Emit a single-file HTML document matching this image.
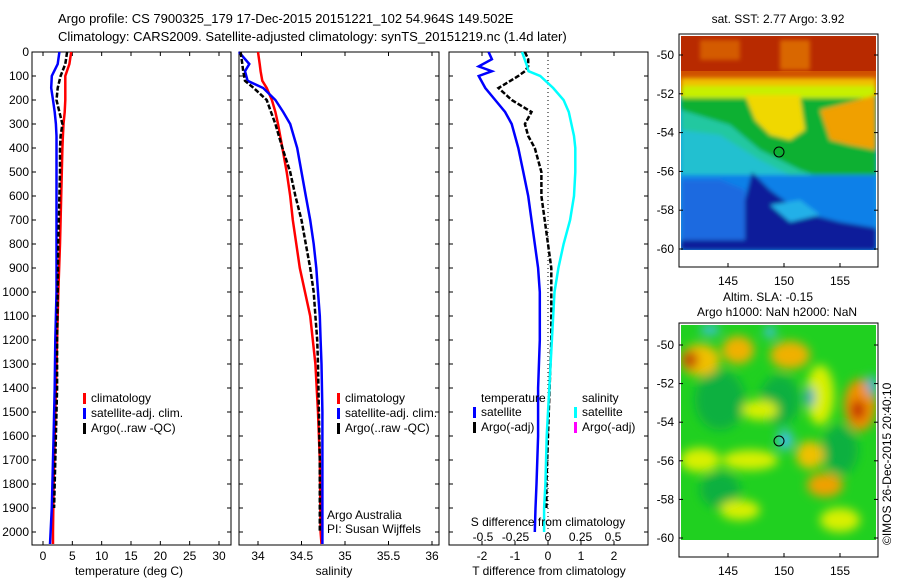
<!DOCTYPE html>
<html><head><meta charset="utf-8">
<style>
body{margin:0;background:#fff;}
svg text{font-family:"Liberation Sans",sans-serif;font-size:12px;fill:#000;}
</style></head>
<body>
<svg id="fig" width="900" height="580" viewBox="0 0 900 580" xmlns="http://www.w3.org/2000/svg">
<defs>
<filter id="blur2" x="-30%" y="-30%" width="160%" height="160%"><feGaussianBlur stdDeviation="5"/></filter>
<filter id="blur1" x="-30%" y="-30%" width="160%" height="160%"><feGaussianBlur stdDeviation="2"/></filter>
<clipPath id="m1c"><rect x="681" y="36" width="195" height="214"/></clipPath>
<clipPath id="m2c"><rect x="681" y="325" width="195" height="215"/></clipPath>
</defs>
<text x="58" y="23" style="font-size:13px">Argo profile: CS 7900325_179 17-Dec-2015 20151221_102 54.964S 149.502E</text>
<text x="58" y="41" style="font-size:13px">Climatology: CARS2009. Satellite-adjusted climatology: synTS_20151219.nc (1.4d later)</text>

<!-- Map 1 -->
<g>
<g clip-path="url(#m1c)">
<rect x="681" y="36" width="195" height="214" fill="#0a9fe0"/>
<rect x="681" y="36" width="195" height="60" fill="#d05000"/>
<rect x="681" y="36" width="195" height="35" fill="#b82a00"/>
<g filter="url(#blur1)">
<rect x="700" y="40" width="40" height="20" fill="#e07000" opacity="0.7"/>
<rect x="780" y="40" width="30" height="30" fill="#f09000" opacity="0.6"/>
<rect x="681" y="78" width="195" height="18" fill="#f0c000"/>
<rect x="681" y="86" width="195" height="12" fill="#c8f000"/>
<polygon points="681,98 876,98 876,195 840,185 800,170 760,150 730,125 681,110" fill="#10b030"/>
<polygon points="681,110 730,125 760,150 800,170 840,185 876,195 876,210 681,210" fill="#20c8a0"/>
<polygon points="681,130 720,135 760,160 790,175 681,175" fill="#20c0d0"/>
<polygon points="745,95 800,95 805,130 790,140 770,135 755,120" fill="#f0d800"/>
<polygon points="820,110 876,95 876,150 850,145 830,140" fill="#f0a000"/>
<rect x="681" y="175" width="195" height="75" fill="#1080e8"/>
<polygon points="752,172 770,190 800,212 840,222 876,228 876,250 681,250 681,240 740,235 745,200" fill="#0a1a9a"/>
<polygon points="770,205 800,200 820,215 790,222" fill="#20b0e8"/>
<polygon points="681,180 720,180 745,190 745,240 681,240" fill="#1a6ae0"/>
</g>
</g>
<rect x="679" y="34" width="199" height="233" fill="none" stroke="#000"/>
<circle cx="779" cy="152" r="5" fill="none" stroke="#000"/>
</g>
<text x="778" y="23" text-anchor="middle">sat. SST: 2.77 Argo: 3.92</text>

<!-- Map 2 -->
<g>
<g clip-path="url(#m2c)">
<rect x="681" y="325" width="195" height="215" fill="#20d020"/>
<g filter="url(#blur2)">
<ellipse cx="720" cy="400" rx="25" ry="30" fill="#10b040"/>
<ellipse cx="780" cy="400" rx="20" ry="25" fill="#10b040"/>
<ellipse cx="840" cy="450" rx="18" ry="25" fill="#10b040"/>
<ellipse cx="720" cy="490" rx="20" ry="18" fill="#10b040"/>
<ellipse cx="700" cy="360" rx="20" ry="16" fill="#f0c000"/>
<ellipse cx="690" cy="360" rx="8" ry="9" fill="#c04000"/>
<ellipse cx="738" cy="350" rx="16" ry="14" fill="#f0b000"/>
<ellipse cx="790" cy="355" rx="20" ry="14" fill="#f0b000"/>
<ellipse cx="860" cy="405" rx="16" ry="26" fill="#f09000"/>
<ellipse cx="858" cy="410" rx="7" ry="10" fill="#c02000"/>
<ellipse cx="810" cy="455" rx="14" ry="14" fill="#f0c000"/>
<ellipse cx="825" cy="485" rx="18" ry="12" fill="#f0a000"/>
<ellipse cx="750" cy="460" rx="28" ry="10" fill="#d8f000"/>
<ellipse cx="700" cy="460" rx="20" ry="12" fill="#d8f000"/>
<ellipse cx="820" cy="395" rx="14" ry="30" fill="#d8f000"/>
<ellipse cx="760" cy="410" rx="18" ry="10" fill="#d8f000"/>
<ellipse cx="785" cy="440" rx="8" ry="10" fill="#40c0e0"/>
<ellipse cx="810" cy="397" rx="4" ry="10" fill="#3090e0"/>
<ellipse cx="872" cy="385" rx="5" ry="10" fill="#40b0e0"/>
<ellipse cx="770" cy="332" rx="6" ry="6" fill="#40c0e0"/>
<ellipse cx="710" cy="330" rx="10" ry="5" fill="#40c0e0"/>
<ellipse cx="740" cy="510" rx="20" ry="10" fill="#d8f000"/>
<ellipse cx="840" cy="520" rx="20" ry="12" fill="#d8f000"/>
</g>
</g>
<rect x="679" y="323" width="199" height="234" fill="none" stroke="#000"/>
<circle cx="779" cy="441" r="5" fill="none" stroke="#000"/>
</g>
<text x="768" y="301" text-anchor="middle">Altim. SLA: -0.15</text>
<text x="777" y="316" text-anchor="middle">Argo h1000: NaN h2000: NaN</text>
<text transform="translate(891,545) rotate(-90)">©IMOS 26-Dec-2015 20:40:10</text>
<g id="plots"></g>
</svg>
<script>
// shared depth grid
const depthTicks=[0,100,200,300,400,500,600,700,800,900,1000,1100,1200,1300,1400,1500,1600,1700,1800,1900,2000];
// temperature profiles
const tDepth=[0,50,100,150,200,250,300,350,400,500,600,700,800,1000,1200,1400,1600,1800,1900,2000,2050];
const tClim=[4.8,4.5,3.8,3.8,3.8,3.7,3.5,3.4,3.3,3.2,3.1,3.0,2.9,2.6,2.4,2.2,2.0,1.8,1.75,1.7,1.7];
const tSat=[2.8,2.5,1.5,1.4,1.7,2.0,2.2,2.3,2.3,2.3,2.3,2.3,2.3,2.3,2.1,2.0,1.8,1.6,1.5,1.3,1.2];
const tArgo=[4.1,3.8,3.0,2.5,2.3,2.8,3.3,3.0,2.9,2.9,2.8,2.7,2.6,2.5,2.4,2.4,2.2,2.0,1.9,null,null];
// salinity profiles
const sDepth=[0,50,80,120,150,200,250,300,400,500,600,700,800,900,1000,1100,1200,1300,1500,1700,2000,2050];
const sClim=[34.0,34.02,34.03,34.05,34.1,34.16,34.2,34.23,34.28,34.33,34.37,34.4,34.44,34.48,34.54,34.6,34.63,34.66,34.69,34.71,34.72,34.73];
const sSat=[33.78,33.9,33.85,33.88,34.06,34.2,34.29,34.37,34.45,34.5,34.55,34.6,34.64,34.67,34.69,34.71,34.72,34.73,34.74,34.74,34.74,34.74];
const sArgo=[33.8,33.82,33.83,33.85,33.95,34.1,34.15,34.2,34.28,34.37,34.43,34.5,34.55,34.6,34.64,34.66,34.68,34.69,34.7,34.71,34.71,null];
// difference profiles
const dDepth=[0,30,60,80,100,150,200,250,300,350,400,500,600,700,800,900,1000,1200,1400,1600,1800,1900,2000];
const dTSat=[-1.8,-1.7,-2.1,-1.7,-2.1,-1.9,-1.6,-1.3,-1.1,-1.0,-0.9,-0.75,-0.6,-0.5,-0.4,-0.3,-0.25,-0.25,-0.3,-0.3,-0.35,-0.38,-0.4];
const dTArgo=[-0.7,-0.6,-0.6,-0.7,-0.9,-1.5,-1.1,-0.5,-0.7,-0.6,-0.4,-0.2,-0.2,-0.1,0.0,0.1,0.1,0.1,0.05,0.0,-0.05,-0.05,null];
const dSSat=[-0.2,-0.18,-0.16,-0.15,-0.06,0.04,0.12,0.16,0.18,0.2,0.21,0.21,0.2,0.17,0.12,0.08,0.05,0.03,0.01,-0.01,-0.02,-0.03,-0.03];
const tTicks=[0,5,10,15,20,25,30];
const sTicks=[34,34.5,35,35.5,36];
const dTTicks=[-2,-1,0,1,2];
const dSTicks=[-0.5,-0.25,0,0.25,0.5];
const latTicks=[-50,-52,-54,-56,-58,-60];
const lonTicks=[145,150,155];

const NS='http://www.w3.org/2000/svg';
const plots=document.getElementById('plots');
function mk(tag,attrs,parent){const e=document.createElementNS(NS,tag);for(const k in attrs)e.setAttribute(k,attrs[k]);(parent||plots).appendChild(e);return e;}
const top0=52, bot=545;
function yD(d){return top0+d*0.24;}
function linear(d0,p0,d1,p1){return v=>p0+(v-d0)*(p1-p0)/(d1-d0);}
const xT=linear(0,43,30,219);
const xS=linear(34,258,36,432);
const xDT=linear(0,548,2,614);
const xDS=linear(0,548,0.5,613);

function frame(x0,x1,name){
  const r=mk('rect',{x:x0,y:top0,width:x1-x0,height:bot-top0,fill:'none',stroke:'#000'});
  
  
  depthTicks.forEach(d=>{
    mk('line',{x1:x0,x2:x0+4,y1:yD(d),y2:yD(d),stroke:'#000'});
    mk('line',{x1:x1,x2:x1-4,y1:yD(d),y2:yD(d),stroke:'#000'});
  });
}
function xticks(ticks,fx,label,lx,name){
  ticks.forEach(t=>{
    const x=fx(t);
    mk('line',{x1:x,x2:x,y1:bot,y2:bot-4,stroke:'#000'});
    mk('line',{x1:x,x2:x,y1:top0,y2:top0+4,stroke:'#000'});
    const tx=mk('text',{x:x,y:bot+15,'text-anchor':'middle'});tx.textContent=t;
    
    
  });
  const al=mk('text',{x:lx,y:bot+30,'text-anchor':'middle'});al.textContent=label;
  
  
}
function line(depths,vals,fx,color,w,dash,name){
  let d='';let pen=false;
  depths.forEach((dp,i)=>{if(vals[i]==null){pen=false;return;}d+=(pen?'L':'M')+fx(vals[i]).toFixed(1)+','+yD(dp).toFixed(1);pen=true;});
  const p=mk('path',{d:d,fill:'none',stroke:color,'stroke-width':w});
  if(dash)p.setAttribute('stroke-dasharray',dash);
  
  
}
function legend(x,y,items){
  items.forEach((it,i)=>{
    mk('rect',{x:x,y:y+i*15-9,width:3,height:11,fill:it[0]});
    const t=mk('text',{x:x+8,y:y+i*15});t.textContent=it[1];
    
    
  });
}
depthTicks.forEach(d=>{
  const t=mk('text',{x:29,y:yD(d)+4,'text-anchor':'end'});t.textContent=d;
  
  
});
// panel 1
frame(32,231,'temperature-panel');
xticks(tTicks,xT,'temperature (deg C)',129,'temperature-axis-title');
line(tDepth,tClim,xT,'#f00',2.5,null,'temp-climatology-line');
line(tDepth,tSat,xT,'#00f',2.5,null,'temp-satellite-line');
line(tDepth,tArgo,xT,'#000',2.5,'5,2','temp-argo-line');
legend(83,402,[['#f00','climatology'],['#00f','satellite-adj. clim.'],['#000','Argo(..raw -QC)']]);
// panel 2
frame(239,439,'salinity-panel');
xticks(sTicks,xS,'salinity',334,'salinity-axis-title');
line(sDepth,sClim,xS,'#f00',2.5,null,'sal-climatology-line');
line(sDepth,sSat,xS,'#00f',2.5,null,'sal-satellite-line');
line(sDepth,sArgo,xS,'#000',2.5,'5,2','sal-argo-line');
legend(337,402,[['#f00','climatology'],['#00f','satellite-adj. clim.'],['#000','Argo(..raw -QC)']]);
let t1=mk('text',{x:327,y:519});t1.textContent='Argo Australia';

let t2=mk('text',{x:327,y:533});t2.textContent='PI: Susan Wijffels';

// panel 3
frame(449,648,'difference-panel');
xticks(dTTicks,xDT,'T difference from climatology',549,'t-diff-axis-title');
mk('line',{x1:548,x2:548,y1:top0,y2:bot,stroke:'#000','stroke-dasharray':'1,3'});
line(dDepth,dTSat,xDT,'#00f',2.5,null,'tdiff-satellite-line');
line(dDepth,dTArgo,xDT,'#000',2.5,'5,2','tdiff-argo-line');
line(dDepth,dSSat,xDS,'#0ff',2.5,null,'sdiff-satellite-line');
dSTicks.forEach(t=>{const x=mk('text',{x:xDS(t),y:541,'text-anchor':'middle'});x.textContent=t;
  });
let st=mk('text',{x:548,y:526,'text-anchor':'middle'});st.textContent='S difference from climatology';

let lt=mk('text',{x:481,y:402});lt.textContent='temperature';

let ls=mk('text',{x:582,y:402});ls.textContent='salinity';

legend(473,416,[['#00f','satellite'],['#000','Argo(-adj)']]);
legend(574,416,[['#0ff','satellite'],['#f0f','Argo(-adj)']]);
// map axes
function mapAxes(yTop,latY0,latY1,name){
  const fy=linear(-50,latY0,-60,latY1);
  const fx=linear(145,728,155,840);
  latTicks.forEach(l=>{
    mk('line',{x1:679,x2:683,y1:fy(l),y2:fy(l),stroke:'#000'});
    mk('line',{x1:878,x2:874,y1:fy(l),y2:fy(l),stroke:'#000'});
    const t=mk('text',{x:674,y:fy(l)+4,'text-anchor':'end'});t.textContent=l;
    
  });
  lonTicks.forEach(l=>{
    mk('line',{x1:fx(l),x2:fx(l),y1:yTop,y2:yTop-4,stroke:'#000'});
    const t=mk('text',{x:fx(l),y:yTop+18,'text-anchor':'middle'});t.textContent=l;
    
  });
}
mapAxes(267,55,249,'sst-map');
mapAxes(557,345,538,'sla-map');
</script>
</body></html>
